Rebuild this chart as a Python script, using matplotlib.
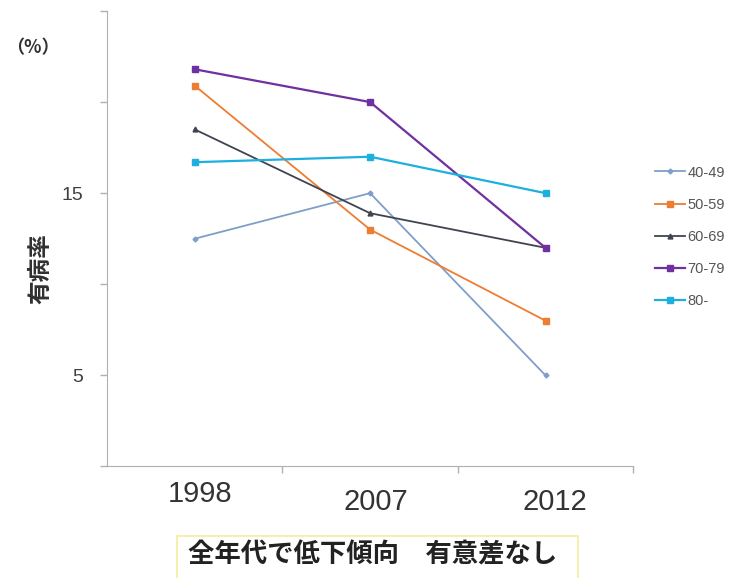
import matplotlib
matplotlib.use("Agg")
import matplotlib.pyplot as plt
from matplotlib.patches import Rectangle

plt.rcParams['font.family'] = ['Noto Sans CJK JP', 'DejaVu Sans']

years = ["1998", "2007", "2012"]
groups = ["40-49", "50-59", "60-69", "70-79", "80-"]
rate_40 = [12.5, 15.0, 5.0]
rate_50 = [20.9, 13.0, 8.0]
rate_60 = [18.5, 13.9, 12.0]
rate_70 = [21.8, 20.0, 12.0]
rate_80 = [16.7, 17.0, 15.0]
yticks_shown = [5, 15]

series = [rate_40, rate_50, rate_60, rate_70, rate_80]
colors = ["#7f9fc8", "#ed7d31", "#3f4450", "#7030a0", "#1cb0de"]
markers = ["D", "s", "^", "s", "s"]
msizes = [2.5, 4, 3.5, 4, 4]
lws = [1.3, 1.3, 1.3, 1.6, 1.6]

fig = plt.figure(figsize=(7.38, 5.78), dpi=100)
ax = fig.add_axes([0.145, 0.193, 0.713, 0.788])

xs = [1, 2, 3]
for vals, lab, c, m, ms, lw in zip(series, groups, colors, markers, msizes, lws):
    ax.plot(xs, vals, color=c, marker=m, markersize=ms, lw=lw, label=lab)

ax.set_xlim(0.5, 3.5)
ax.set_ylim(0, 25)
all_ticks = [0, 5, 10, 15, 20, 25]
ax.set_yticks(all_ticks)
ax.set_yticklabels([str(v) if v in yticks_shown else "" for v in all_ticks],
                   fontsize=14, color="#404040", family="Liberation Sans")
ax.set_xticks([1.5, 2.5, 3.5])
ax.set_xticklabels([])
ax.tick_params(axis="both", direction="out", length=5, color="#b0b0b0", width=1)
ax.tick_params(axis="y", pad=12)
for s in ["top", "right"]:
    ax.spines[s].set_visible(False)
for s in ["left", "bottom"]:
    ax.spines[s].set_color("#b0b0b0")

# year labels, placed a bit unevenly as in the source
year_pos = [(0.271, 0.145), (0.509, 0.131), (0.752, 0.131)]
for (fx, fy), yr in zip(year_pos, years):
    fig.text(fx, fy, yr, fontsize=21, family="Liberation Sans",
             color="#333333", ha="center", va="center")

fig.text(0.055, 0.535, "有病率", rotation=90, fontsize=17, fontweight="bold",
         color="#303030", ha="center", va="center")
fig.text(0.045, 0.917, "（%）", fontsize=13, fontweight="bold", color="#303030",
         ha="center", va="center")

ax.legend(loc="center left", bbox_to_anchor=(0.887, 0.59), bbox_transform=fig.transFigure,
          frameon=False, borderaxespad=0, borderpad=0,
          prop={"family": "Liberation Sans", "size": 10.5},
          handlelength=2.1, handletextpad=0.15,
          labelspacing=1.25, labelcolor="#555555")

box = Rectangle((0.24, -0.02), 0.543, 0.092, transform=fig.transFigure,
                facecolor="white", edgecolor="#f3eea0", lw=1.2)
fig.patches.append(box)
fig.text(0.505, 0.040, "全年代で低下傾向　有意差なし", fontsize=19, fontweight="bold",
         color="#222222", ha="center", va="center")

fig.savefig("out.png", dpi=100, facecolor="white")
